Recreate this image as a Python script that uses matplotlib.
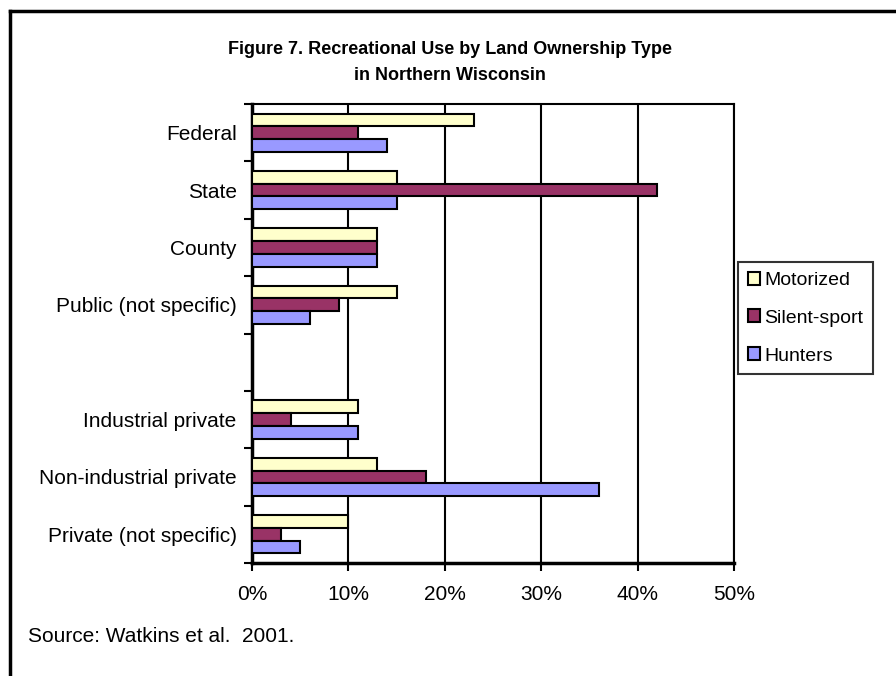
import numpy as np
import matplotlib
matplotlib.use("Agg")
import matplotlib.pyplot as plt
from matplotlib.lines import Line2D
from matplotlib.ticker import FuncFormatter

categories = ['Federal', 'State', 'County', 'Public (not specific)', '',
              'Industrial private', 'Non-industrial private', 'Private (not specific)']
motorized = [23, 15, 13, 15, None, 11, 13, 10]
silent_sport = [11, 42, 13, 9, None, 4, 18, 3]
hunters = [14, 15, 13, 6, None, 11, 36, 5]
series_names = ['Motorized', 'Silent-sport', 'Hunters']
xticks = [0, 10, 20, 30, 40, 50]

colors = ['#FFFFCC', '#993366', '#9999FF']

plt.rcParams['font.family'] = ['Liberation Sans', 'DejaVu Sans']

fig = plt.figure(figsize=(8.96, 6.76), dpi=100)
ax = fig.add_axes([252/896, 1-563/676, (734-252)/896, (563-104)/676])

bh = 0.222
offsets = [-bh, 0, bh]
for s, (vals, col, name) in enumerate(zip([motorized, silent_sport, hunters], colors, series_names)):
    ys = [i + offsets[s] for i, v in enumerate(vals) if v is not None]
    ws = [v for v in vals if v is not None]
    ax.barh(ys, ws, height=bh, color=col, edgecolor='black', linewidth=1.5,
            label=name, zorder=3)

ax.set_xlim(0, 50)
ax.set_ylim(len(categories) - 0.5, -0.5)
ax.set_xticks(xticks)
ax.xaxis.set_major_formatter(FuncFormatter(lambda v, p: f"{int(v)}%"))
ax.grid(axis='x', color='black', linewidth=1.5, zorder=1)

ax.set_yticks(np.arange(len(categories) + 1) - 0.5)
ax.set_yticklabels([])
ax.set_yticks(np.arange(len(categories)), minor=True)
ax.set_yticklabels(categories, minor=True)
ax.tick_params(axis='y', which='minor', length=0, pad=11, labelsize=15)
ax.tick_params(axis='y', which='major', length=6, width=1.5, direction='out')
ax.tick_params(axis='x', length=6, width=1.5, direction='out', pad=10, labelsize=15)

for sp in ax.spines.values():
    sp.set_linewidth(1.5)
    sp.set_color('black')
ax.spines['left'].set_linewidth(2.5)
ax.spines['bottom'].set_linewidth(2.5)

handles = [plt.Rectangle((0, 0), 1, 1, facecolor=c, edgecolor='black', linewidth=1.5) for c in colors]
leg = fig.legend(handles, series_names, loc='upper left',
                 bbox_to_anchor=(738/896, 1-262/676), bbox_transform=fig.transFigure,
                 fontsize=14, frameon=True, fancybox=False, edgecolor='black',
                 handlelength=0.65, handleheight=0.65, handletextpad=0.2,
                 labelspacing=1.05, borderpad=0.5, borderaxespad=0)
leg.get_frame().set_linewidth(1.5)

fig.text(450/896, 1-50/676, 'Figure 7. Recreational Use by Land Ownership Type',
         ha='center', va='center', fontsize=13, fontweight='bold')
fig.text(450/896, 1-75/676, 'in Northern Wisconsin',
         ha='center', va='center', fontsize=13, fontweight='bold')
fig.text(28/896, 1-637/676, 'Source: Watkins et al.  2001.',
         ha='left', va='center', fontsize=15)

fig.add_artist(Line2D([10/896, 1], [1-11/676, 1-11/676], color='black', linewidth=2.5,
                      transform=fig.transFigure))
fig.add_artist(Line2D([10/896, 10/896], [1-11/676, 0], color='black', linewidth=2.5,
                      transform=fig.transFigure))

fig.savefig('out.png', dpi=100, facecolor='white')
